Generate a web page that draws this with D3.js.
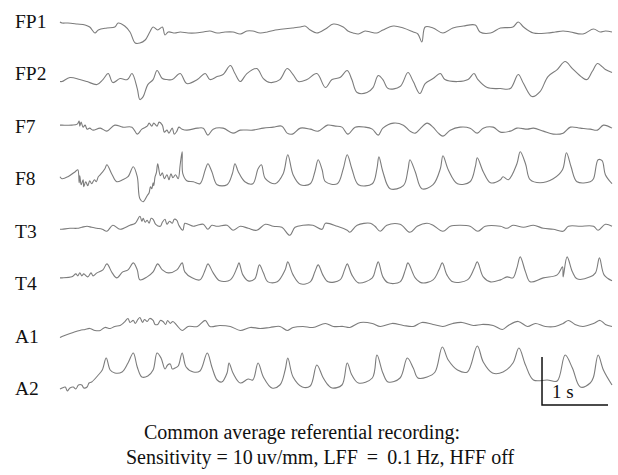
<!DOCTYPE html>
<html>
<head>
<meta charset="utf-8">
<script src="https://cdn.jsdelivr.net/npm/d3@7"></script>
<style>
  body { margin: 0; background: #fff; }
  text { font-family: "Liberation Serif", "DejaVu Serif", serif; fill: #111; }
</style>
</head>
<body>
<div id="chart"></div>
<script>
// EEG channels, top to bottom
const channels = ["FP1", "FP2", "F7", "F8", "T3", "T4", "A1", "A2"];

// traces: [time (s), amplitude]
const fp1 = [[0.00,8],[0.03,7],[0.12,7],[0.26,6],[0.38,5],[0.45,3],[0.53,-3],[0.58,0],[0.71,2],[0.83,3],[0.88,7],[0.98,4],[1.06,-2],[1.14,-13],[1.21,-13],[1.29,-10],[1.36,-2],[1.41,3],[1.48,0],[1.55,3],[1.59,-5],[1.64,-2],[1.74,-3],[1.82,-2],[1.94,-3],[2.05,-3],[2.17,-2],[2.27,-1],[2.38,-3],[2.50,-2],[2.62,-2],[2.73,-4],[2.83,-1],[2.92,-1],[3.03,-3],[3.14,-2],[3.26,0],[3.38,1],[3.52,2],[3.64,3],[3.71,4],[3.79,0],[3.89,-3],[4.02,1],[4.14,6],[4.29,3],[4.36,-1],[4.44,-3],[4.52,-4],[4.62,-1],[4.70,-2],[4.80,-3],[4.89,0],[5.05,4],[5.20,2],[5.35,-2],[5.42,-4],[5.48,-12],[5.53,3],[5.65,2],[5.80,-3],[5.95,2],[6.11,4],[6.29,5],[6.36,-2],[6.52,-3],[6.67,2],[6.86,3],[6.94,8],[7.02,3],[7.17,-3],[7.38,-3],[7.50,-2],[7.62,-1],[7.73,-2],[7.92,-4],[8.08,1],[8.18,-2],[8.26,-1],[8.36,-2]];
const fp2 = [[0.00,-2],[0.03,-2],[0.15,2],[0.30,0],[0.41,-2],[0.56,-5],[0.65,0],[0.73,6],[0.80,-3],[0.91,1],[1.02,0],[1.09,6],[1.17,-9],[1.21,-20],[1.26,-17],[1.33,-5],[1.41,0],[1.47,9],[1.55,1],[1.62,0],[1.70,0],[1.82,6],[1.92,-4],[2.08,0],[2.20,6],[2.27,0],[2.38,3],[2.47,5],[2.58,14],[2.65,6],[2.73,-2],[2.83,6],[2.98,11],[3.08,1],[3.18,-3],[3.33,0],[3.44,11],[3.53,5],[3.61,-2],[3.74,0],[3.89,6],[4.02,-8],[4.12,0],[4.24,2],[4.35,9],[4.42,0],[4.50,-13],[4.65,-13],[4.74,-8],[4.82,4],[4.89,0],[4.97,-9],[5.15,-7],[5.27,7],[5.35,-2],[5.45,-14],[5.53,-4],[5.65,1],[5.76,6],[5.83,0],[6.02,-2],[6.18,0],[6.27,6],[6.33,0],[6.47,-8],[6.67,-9],[6.82,-9],[6.94,5],[7.02,-4],[7.15,-17],[7.27,-12],[7.39,3],[7.53,10],[7.65,18],[7.76,11],[7.91,2],[7.98,0],[8.06,8],[8.14,16],[8.21,13],[8.26,10],[8.36,7]];
const f7 = [[0.00,4],[0.03,4],[0.18,4],[0.26,5],[0.29,8],[0.30,3],[0.32,7],[0.35,2],[0.38,4],[0.41,0],[0.45,1],[0.50,-1],[0.61,1],[0.71,-2],[0.83,4],[0.95,2],[1.09,2],[1.17,-5],[1.24,0],[1.32,3],[1.35,6],[1.39,3],[1.42,6],[1.47,3],[1.50,7],[1.55,4],[1.58,-3],[1.62,-1],[1.65,-4],[1.70,1],[1.73,-5],[1.77,-2],[1.80,2],[1.85,0],[1.92,-1],[2.08,1],[2.17,1],[2.24,-6],[2.32,0],[2.47,1],[2.62,-4],[2.73,-1],[2.92,-1],[3.08,1],[3.23,2],[3.36,3],[3.44,-4],[3.52,-5],[3.64,1],[3.79,0],[3.91,-2],[4.05,4],[4.17,3],[4.27,2],[4.36,-5],[4.47,2],[4.62,2],[4.73,0],[4.82,-6],[4.89,1],[5.05,6],[5.20,4],[5.30,-2],[5.38,-4],[5.45,0],[5.56,6],[5.65,2],[5.73,-4],[5.80,-7],[5.91,-1],[6.06,2],[6.21,1],[6.32,-4],[6.41,1],[6.56,2],[6.67,-3],[6.82,-2],[6.92,1],[7.08,0],[7.17,1],[7.32,-2],[7.47,-5],[7.62,-4],[7.73,2],[7.88,1],[8.03,0],[8.14,-1],[8.23,4],[8.36,1]];
const f8 = [[0.00,2],[0.03,0],[0.12,2],[0.23,7],[0.27,9],[0.29,-4],[0.30,3],[0.32,-6],[0.35,-1],[0.36,-8],[0.39,-3],[0.42,-7],[0.45,-2],[0.48,-5],[0.52,-1],[0.55,-3],[0.58,2],[0.61,4],[0.68,10],[0.71,14],[0.79,4],[0.86,-3],[0.95,-1],[1.03,2],[1.11,12],[1.17,2],[1.21,-20],[1.26,-23],[1.32,-17],[1.35,-14],[1.37,-8],[1.39,-10],[1.41,-4],[1.42,-7],[1.44,2],[1.46,6],[1.48,15],[1.52,3],[1.55,6],[1.58,0],[1.62,4],[1.65,-1],[1.68,5],[1.71,1],[1.75,4],[1.79,0],[1.82,14],[1.85,27],[1.86,5],[1.92,-2],[2.02,-3],[2.12,-5],[2.20,9],[2.24,15],[2.30,7],[2.38,-6],[2.53,-6],[2.61,5],[2.65,15],[2.70,7],[2.80,-3],[2.92,-5],[3.00,10],[3.05,14],[3.11,0],[3.26,-5],[3.38,5],[3.45,24],[3.53,4],[3.64,-6],[3.79,-5],[3.86,7],[3.91,19],[3.97,9],[4.02,-3],[4.20,-5],[4.29,10],[4.35,24],[4.42,10],[4.52,-6],[4.73,-5],[4.80,10],[4.83,22],[4.89,7],[5.00,-10],[5.20,-7],[5.27,9],[5.30,19],[5.38,7],[5.48,-10],[5.65,-6],[5.76,10],[5.80,23],[5.88,9],[6.02,-5],[6.21,-3],[6.29,12],[6.32,21],[6.41,7],[6.52,-4],[6.67,-1],[6.71,2],[6.79,-1],[6.92,15],[6.97,27],[7.05,15],[7.12,-1],[7.27,-4],[7.47,0],[7.61,9],[7.67,26],[7.74,12],[7.83,-3],[8.03,-3],[8.08,0],[8.15,19],[8.21,18],[8.26,4],[8.36,-5]];
const t3 = [[0.00,-1],[0.03,-1],[0.15,0],[0.26,0],[0.33,1],[0.41,2],[0.48,1],[0.56,0],[0.64,-1],[0.71,-3],[0.80,3],[0.91,-1],[1.06,3],[1.14,5],[1.21,12],[1.24,7],[1.26,10],[1.29,6],[1.32,8],[1.35,5],[1.38,10],[1.41,9],[1.45,4],[1.52,2],[1.55,6],[1.59,9],[1.62,4],[1.66,7],[1.70,5],[1.73,9],[1.77,8],[1.80,3],[1.86,-2],[1.89,5],[1.94,4],[2.02,2],[2.08,3],[2.17,4],[2.24,-1],[2.30,3],[2.38,2],[2.53,3],[2.62,-2],[2.73,2],[2.85,0],[2.98,-2],[3.11,4],[3.23,2],[3.36,1],[3.48,-7],[3.56,1],[3.68,3],[3.83,3],[3.97,-1],[4.02,5],[4.20,2],[4.35,-2],[4.39,-4],[4.50,3],[4.70,5],[4.77,2],[4.85,-3],[4.95,3],[5.15,4],[5.30,-4],[5.41,2],[5.56,5],[5.65,3],[5.80,-3],[5.91,2],[6.06,3],[6.21,2],[6.33,-3],[6.44,2],[6.67,2],[6.77,0],[6.86,3],[7.02,1],[7.17,3],[7.32,0],[7.47,-1],[7.62,-3],[7.70,2],[7.88,2],[8.08,2],[8.15,-2],[8.26,4],[8.36,2]];
const t4 = [[0.00,0],[0.03,0],[0.18,1],[0.24,4],[0.27,2],[0.30,5],[0.33,2],[0.36,4],[0.42,1],[0.47,5],[0.50,2],[0.56,5],[0.65,8],[0.71,14],[0.79,5],[0.86,0],[0.95,6],[1.03,8],[1.11,15],[1.17,8],[1.21,-2],[1.32,1],[1.41,6],[1.48,14],[1.55,8],[1.64,5],[1.77,8],[1.85,15],[1.89,6],[2.00,0],[2.12,-2],[2.20,8],[2.24,14],[2.32,5],[2.42,-3],[2.58,-2],[2.68,10],[2.71,15],[2.77,3],[2.85,-3],[2.95,-1],[3.02,13],[3.08,5],[3.15,-4],[3.29,-4],[3.41,8],[3.45,16],[3.53,3],[3.64,-6],[3.79,-4],[3.86,6],[3.91,13],[3.98,3],[4.06,-4],[4.24,-2],[4.31,8],[4.35,14],[4.42,3],[4.52,-5],[4.73,0],[4.78,9],[4.82,16],[4.89,1],[4.97,-5],[5.15,-4],[5.23,8],[5.27,15],[5.38,0],[5.48,-5],[5.65,-2],[5.74,8],[5.79,15],[5.86,3],[5.95,-4],[6.17,-2],[6.27,9],[6.32,16],[6.41,1],[6.52,-4],[6.67,-2],[6.77,1],[6.86,0],[6.92,10],[6.97,21],[7.05,6],[7.12,-4],[7.32,0],[7.53,3],[7.61,11],[7.62,1],[7.68,21],[7.76,6],[7.83,-1],[8.03,1],[8.11,5],[8.17,20],[8.24,3],[8.36,-3]];
const a1 = [[0.00,-10],[0.03,-9],[0.11,-7],[0.20,-5],[0.30,-3],[0.38,-2],[0.45,-1],[0.53,-3],[0.61,-3],[0.68,0],[0.76,-1],[0.83,1],[0.91,2],[0.97,5],[1.03,9],[1.06,5],[1.11,7],[1.14,4],[1.18,8],[1.21,10],[1.25,5],[1.28,8],[1.32,6],[1.36,9],[1.41,7],[1.44,3],[1.48,3],[1.52,7],[1.56,6],[1.60,3],[1.63,7],[1.67,4],[1.71,6],[1.77,2],[1.85,-3],[1.94,1],[2.08,1],[2.20,7],[2.27,1],[2.42,2],[2.58,1],[2.73,-3],[2.88,0],[3.03,-1],[3.18,0],[3.33,1],[3.44,-3],[3.53,0],[3.68,1],[3.83,0],[4.02,4],[4.14,1],[4.29,1],[4.39,0],[4.55,5],[4.73,4],[4.85,1],[5.03,4],[5.20,2],[5.35,1],[5.48,5],[5.65,3],[5.80,1],[5.95,4],[6.09,5],[6.26,2],[6.39,3],[6.56,2],[6.70,-2],[6.79,2],[6.94,6],[7.08,1],[7.20,4],[7.35,1],[7.50,1],[7.62,4],[7.70,7],[7.80,3],[7.92,1],[8.08,4],[8.18,7],[8.26,3],[8.36,1]];
const a2 = [[0.00,-12],[0.03,-11],[0.08,-10],[0.11,-14],[0.15,-11],[0.20,-10],[0.24,-12],[0.28,-8],[0.33,-8],[0.36,-11],[0.41,-10],[0.44,-6],[0.48,-5],[0.58,2],[0.64,7],[0.70,19],[0.76,7],[0.83,4],[0.94,5],[1.03,14],[1.11,24],[1.17,10],[1.24,0],[1.33,1],[1.41,7],[1.47,24],[1.53,19],[1.59,8],[1.63,12],[1.67,13],[1.70,8],[1.74,9],[1.79,11],[1.85,24],[1.91,10],[2.02,5],[2.12,6],[2.23,24],[2.30,10],[2.38,-3],[2.45,-5],[2.53,4],[2.56,14],[2.62,4],[2.73,-6],[2.85,-2],[2.92,-3],[3.00,14],[3.08,0],[3.21,-11],[3.33,-8],[3.41,7],[3.45,19],[3.53,0],[3.67,-10],[3.79,-9],[3.89,12],[3.98,0],[4.06,-8],[4.12,-11],[4.27,-8],[4.35,14],[4.42,2],[4.52,-6],[4.73,-1],[4.80,22],[4.89,4],[4.97,-5],[5.15,-1],[5.26,19],[5.35,9],[5.42,-1],[5.56,0],[5.68,5],[5.79,30],[5.88,17],[6.02,7],[6.17,5],[6.32,31],[6.41,15],[6.55,4],[6.71,5],[6.86,14],[6.95,29],[7.05,12],[7.17,-3],[7.38,-3],[7.53,-4],[7.65,22],[7.76,9],[7.88,-10],[8.03,-6],[8.08,0],[8.15,22],[8.23,7],[8.36,-8]];

const traces = [fp1, fp2, f7, f8, t3, t4, a1, a2];

// calibration bar: 1 s wide, drawn on the A2 row
const calSeconds = 1;
const calStart = 7.3;
const calAmp = [-28, 20];
const calLabel = "1 s";

const captionLines = [
  "Common average referential recording:",
  "Sensitivity = 10\u2009uv/mm, LFF \u2009=\u2009 0.1\u2009Hz, HFF off"
];

const width = 618, height = 475;

const svg = d3.select("#chart")
  .append("svg")
  .attr("width", width)
  .attr("height", height);

const x = d3.scaleLinear().domain([0, 8.36]).range([60, 612]);
const rowY = d3.scalePoint().domain(channels).range([30, 377]);
const labelY = d3.scalePoint().domain(channels).range([28, 395]);
const amp = d3.scaleLinear().domain([-30, 30]).range([30, -30]);

channels.forEach((ch, i) => {
  const line = d3.line()
    .x(d => x(d[0]))
    .y(d => rowY(ch) + amp(d[1]))
    .curve(d3.curveCatmullRom.alpha(0.5));

  svg.append("path")
    .datum(traces[i])
    .attr("d", line)
    .attr("fill", "none")
    .attr("stroke", "#7c7c7c")
    .attr("stroke-width", 1.1)
    .attr("stroke-linejoin", "round");

  svg.append("text")
    .attr("x", 15)
    .attr("y", labelY(ch))
    .attr("font-size", 19.5)
    .text(ch);
});

// calibration bar
const calBase = rowY("A2");
svg.append("path")
  .attr("d", `M${x(calStart)},${calBase + amp(calAmp[1])}V${calBase + amp(calAmp[0])}H${x(calStart + calSeconds)}`)
  .attr("fill", "none")
  .attr("stroke", "#111")
  .attr("stroke-width", 1.5);

svg.append("text")
  .attr("x", x(calStart) + 10)
  .attr("y", 398)
  .attr("font-size", 19)
  .text(calLabel);

// caption
svg.selectAll(".caption")
  .data(captionLines)
  .join("text")
  .attr("class", "caption")
  .attr("x", (d, i) => i === 0 ? 302 : 320)
  .attr("y", (d, i) => 439 + i * 25)
  .attr("text-anchor", "middle")
  .attr("font-size", 20)
  .text(d => d);
</script>
</body>
</html>
